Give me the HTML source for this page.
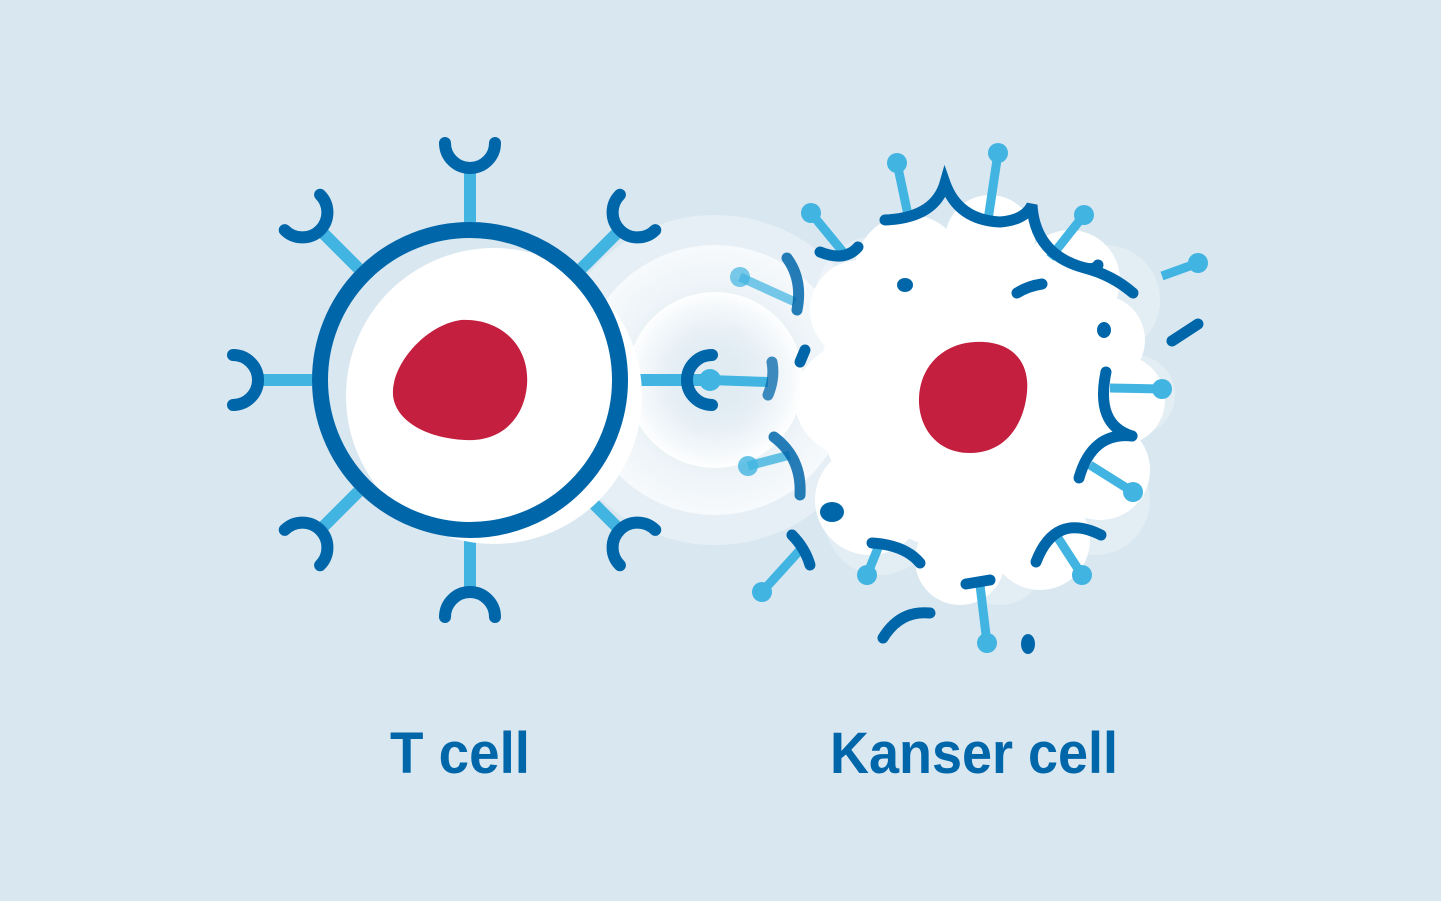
<!DOCTYPE html>
<html><head><meta charset="utf-8"><style>
html,body{margin:0;padding:0;background:#d9e7f0;}
svg{display:block}
</style></head><body>
<svg width="1441" height="901" viewBox="0 0 1441 901" xmlns="http://www.w3.org/2000/svg">
<defs>
<radialGradient id="g1" cx="0.5" cy="0.5" r="0.5">
<stop offset="0.6" stop-color="#fff" stop-opacity="0.15"/>
<stop offset="1" stop-color="#fff" stop-opacity="0.7"/>
</radialGradient>
<radialGradient id="g2" cx="0.5" cy="0.5" r="0.5">
<stop offset="0.3" stop-color="#d9e7f0" stop-opacity="0.6"/>
<stop offset="1" stop-color="#fff" stop-opacity="0.95"/>
</radialGradient>
</defs>
<rect width="1441" height="901" fill="#d9e7f0"/>

<!-- Kanser cell body -->
<g fill="#e3edf4">
<circle cx="880" cy="300" r="65"/><circle cx="1105" cy="300" r="55"/><circle cx="1135" cy="395" r="40"/>
<circle cx="1095" cy="500" r="55"/><circle cx="880" cy="520" r="55"/><circle cx="1000" cy="560" r="45"/>
</g>
<g fill="#fff">
<circle cx="975" cy="395" r="158"/>
<circle cx="910" cy="270" r="55"/><circle cx="990" cy="240" r="45"/><circle cx="1070" cy="280" r="50"/>
<circle cx="1100" cy="340" r="45"/><circle cx="1120" cy="400" r="45"/><circle cx="1100" cy="470" r="50"/>
<circle cx="1040" cy="540" r="50"/><circle cx="960" cy="560" r="45"/><circle cx="870" cy="500" r="55"/>
<circle cx="850" cy="400" r="55"/><circle cx="860" cy="310" r="50"/>
</g>
<path d="M975,342 C1010,340 1030,360 1027,392 C1024,425 1005,453 970,453 C935,453 918,425 919,398 C920,365 945,343 975,342Z" fill="#c41f3e"/>

<!-- glow -->
<circle cx="715" cy="380" r="165" fill="#fff" opacity="0.35"/>
<circle cx="715" cy="380" r="135" fill="url(#g1)"/>
<circle cx="715" cy="380" r="88" fill="url(#g2)"/>

<!-- T cell -->
<g stroke-linecap="round" fill="none">
<g transform="translate(470,380)">
<g id="rc">
<line x1="0" y1="-158" x2="0" y2="-211" stroke="#41b4e1" stroke-width="12" stroke-linecap="butt"/>
<path d="M-25,-237 A25,25 0 0 0 25,-237" stroke="#0066aa" stroke-width="12"/>
</g>
<use href="#rc" transform="rotate(45)"/>
<use href="#rc" transform="rotate(-45)"/>
<use href="#rc" transform="rotate(135)"/>
<use href="#rc" transform="rotate(-135)"/>
<use href="#rc" transform="rotate(180)"/>
<use href="#rc" transform="rotate(-90)"/>
<g transform="rotate(90)">
<line x1="0" y1="-158" x2="0" y2="-240" stroke="#41b4e1" stroke-width="12" stroke-linecap="butt"/>
<path d="M-25,-242 A25,25 0 0 0 25,-242" stroke="#0066aa" stroke-width="12"/>
</g>
</g>
</g>
<circle cx="470" cy="380" r="150" fill="#d9e7f0"/>
<circle cx="494" cy="396" r="148" fill="#fff"/>
<circle cx="470" cy="380" r="150" fill="none" stroke="#0066aa" stroke-width="16"/>
<circle cx="710" cy="380" r="11" fill="#41b4e1"/>
<line x1="710" y1="380" x2="768" y2="382" stroke="#41b4e1" stroke-width="10"/>
<path d="M461,320 C500,318 530,345 527,385 C524,420 500,442 465,440 C425,438 395,420 393,395 C391,365 425,325 461,320Z" fill="#c41f3e"/>

<!-- Kanser receptors -->
<g stroke="#41b4e1" stroke-width="9" fill="#41b4e1">
<line x1="811" y1="213" x2="843" y2="252"/><circle cx="811" cy="213" r="10" stroke="none"/>
<line x1="897" y1="163" x2="908" y2="215"/><circle cx="897" cy="163" r="10" stroke="none"/>
<line x1="998" y1="153" x2="988" y2="220"/><circle cx="998" cy="153" r="10" stroke="none"/>
<line x1="1084" y1="215" x2="1050" y2="258"/><circle cx="1084" cy="215" r="10" stroke="none"/>
<line x1="1198" y1="263" x2="1162" y2="276"/><circle cx="1198" cy="263" r="10" stroke="none"/>
<line x1="1110" y1="388" x2="1162" y2="389"/><circle cx="1162" cy="389" r="10" stroke="none"/>
<line x1="1090" y1="465" x2="1133" y2="492"/><circle cx="1133" cy="492" r="10" stroke="none"/>
<line x1="1058" y1="538" x2="1082" y2="575"/><circle cx="1082" cy="575" r="10" stroke="none"/>
<line x1="980" y1="585" x2="987" y2="643"/><circle cx="987" cy="643" r="10" stroke="none"/>
<line x1="878" y1="548" x2="867" y2="575"/><circle cx="867" cy="575" r="10" stroke="none"/>
<line x1="800" y1="550" x2="762" y2="592"/><circle cx="762" cy="592" r="10" stroke="none"/>
<line x1="740" y1="277" x2="795" y2="302" opacity="0.7"/><circle cx="740" cy="277" r="10" stroke="none" opacity="0.7"/>
<line x1="748" y1="466" x2="790" y2="455" opacity="0.8"/><circle cx="748" cy="466" r="10" stroke="none" opacity="0.8"/>
</g>
<g stroke="#0066aa" stroke-width="11" fill="none" stroke-linecap="round">
<path d="M820,252 Q845,262 858,247"/>
<path d="M885,220 Q935,218 945,183 Q958,220 1000,222 Q1025,220 1032,205 Q1035,255 1085,268 Q1112,275 1133,293"/>
<path d="M1085,268 Q1095,270 1098,265"/>
<path d="M1017,293 Q1028,286 1042,284"/>
<path d="M1172,341 L1198,324"/>
<path d="M1106,372 Q1095,425 1132,436"/>
<path d="M1079,478 Q1092,432 1132,436"/>
<path d="M1036,562 Q1055,512 1101,535"/>
<path d="M966,584 L990,580"/>
<path d="M883,638 Q900,610 930,613"/>
<path d="M872,543 Q905,545 920,563"/>
<path d="M792,535 Q805,548 810,565"/>
<path d="M787,258 Q803,280 797,310" opacity="0.85"/>
<path d="M772,362 Q775,378 768,395" opacity="0.75"/>
<path d="M774,437 Q802,458 800,495" opacity="0.85"/>
<path d="M805,350 L800,362"/>
</g>
<g fill="#0066aa">
<ellipse cx="832" cy="512" rx="12" ry="10"/>
<ellipse cx="1028" cy="644" rx="7" ry="10"/>
<ellipse cx="905" cy="285" rx="8" ry="7"/>
<ellipse cx="1104" cy="330" rx="7" ry="8"/>
</g>

<!-- Labels -->
<g font-family="'Liberation Sans', sans-serif" font-weight="bold" fill="#0066aa" font-size="58">
<text x="390" y="773" textLength="140" lengthAdjust="spacingAndGlyphs">T cell</text>
<text x="830" y="773" textLength="288" lengthAdjust="spacingAndGlyphs">Kanser cell</text>
</g>
</svg>
</body></html>
